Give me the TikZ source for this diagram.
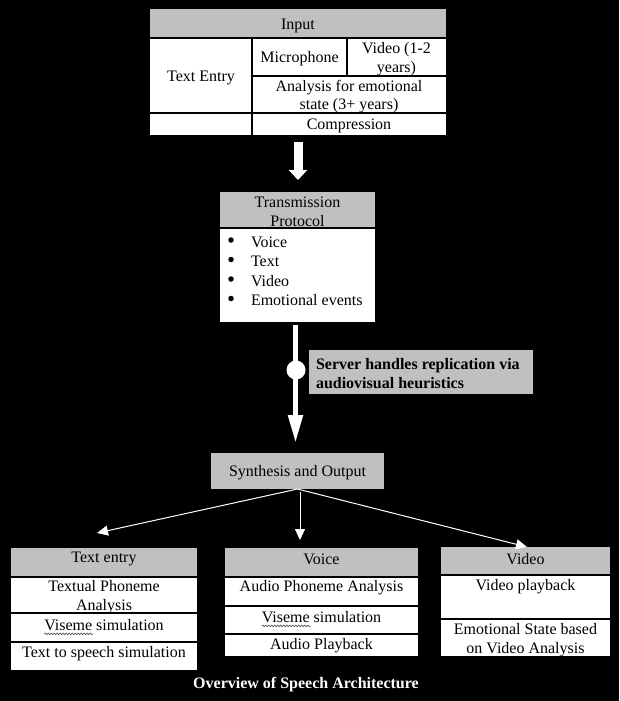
\documentclass[tikz,border=0pt]{standalone}
\usepackage{fontspec}
\setmainfont{Liberation Serif}
\usetikzlibrary{arrows.meta,calc,decorations.pathmorphing}
\definecolor{hdr}{RGB}{192,192,192}
\tikzset{
  every node/.style={font=\fontsize{16}{18.5}\selectfont, inner sep=0pt, outer sep=0pt, text=black, yshift=-2pt},
  tbl/.style={rectangle, draw=none, anchor=north west, fill=white, yshift=2pt},
  hd/.style={rectangle, draw=none, anchor=north west, fill=hdr, yshift=2pt},
  bul/.style={circle, fill=black, minimum size=5.5pt, yshift=2pt},
  rule/.style={draw=black, line width=1.2pt},
  lbl/.style={align=center},
  bigarrow/.style={draw=white, line width=9pt, -{Triangle[width=18pt,length=10pt]}},
  midarrow/.style={draw=white, line width=5pt, -{Triangle[width=14pt,length=28pt]}},
  thinarrow/.style={draw=white, line width=1pt, -{Triangle[width=10pt,length=11pt]}},
  wavy/.style={draw=gray!70!black, line width=0.7pt, decorate, decoration={snake, amplitude=0.8pt, segment length=3pt}},
}
\begin{document}
\begin{tikzpicture}[x=1pt,y=-1pt]
\fill[black] (0,0) rectangle (619,701);
\useasboundingbox (0,0) rectangle (619,701);

% ---------- Input table ----------
\node[tbl, minimum width=296pt, minimum height=126pt] (inp) at (150,9) {};
\node[hd, minimum width=296pt, minimum height=29pt] (inph) at (150,9) {};
\draw[rule] (150,38) -- (446,38);
\draw[rule] (252,76) -- (446,76);
\draw[rule] (150,113) -- (446,113);
\draw[rule] (252,38) -- (252,135);
\draw[rule] (347,38) -- (347,76);
\node (inpt) at (298,23.5) {Input};
\node (txe) at (201,76) {Text Entry};
\node (mic) at (299.5,57) {Microphone};
\node[lbl] (vid) at (396.5,57) {Video (1-2\\years)};
\node[lbl] (ana) at (349,94.5) {Analysis for emotional\\state (3+ years)};
\node (cmp) at (349,124) {Compression};

% ---------- Transmission protocol ----------
\node[tbl, minimum width=155pt, minimum height=130pt] (tp) at (220,192) {};
\node[hd, minimum width=155pt, minimum height=36pt] (tph) at (220,192) {};
\draw[rule] (220,228) -- (375,228);
\node[lbl] (tpt) at (297.5,210) {Transmission\\Protocol};
\node[bul] (b1) at (231,240) {};
\node[bul] (b2) at (231,259.5) {};
\node[bul] (b3) at (231,279) {};
\node[bul] (b4) at (231,298.5) {};
\node[anchor=west] (l1) at (251,240) {Voice};
\node[anchor=west] (l2) at (251,259.5) {Text};
\node[anchor=west] (l3) at (251,279) {Video};
\node[anchor=west] (l4) at (251,298.5) {Emotional events};

% ---------- Server label ----------
\node[hd, minimum width=224pt, minimum height=44pt] (srv) at (309,350) {};
\node[anchor=west, align=left, font=\fontsize{16}{19}\selectfont\bfseries] (srvt) at (316,372) {Server handles replication via\\audiovisual heuristics};

% ---------- Synthesis ----------
\node[hd, minimum width=173pt, minimum height=36pt] (syn) at (211,453) {};
\node (synt) at (297.5,471) {Synthesis and Output};

% ---------- Bottom tables ----------
% Text entry
\node[tbl, minimum width=186pt, minimum height=122pt] (te) at (11,548) {};
\node[hd, minimum width=186pt, minimum height=29pt] (teh) at (11,548) {};
\draw[rule] (11,577) -- (197,577);
\draw[rule] (11,613) -- (197,613);
\draw[rule] (11,642) -- (197,642);
\node (tet) at (104,557) {Text entry};
\node[lbl] (te1) at (104,595) {Textual Phoneme\\Analysis};
\node (vs1) at (104,623) {Viseme simulation};
\node (te3) at (104,652) {Text to speech simulation};
% Voice
\node[tbl, minimum width=193pt, minimum height=108pt] (vo) at (225,548) {};
\node[hd, minimum width=193pt, minimum height=29pt] (voh) at (225,548) {};
\draw[rule] (225,577) -- (418,577);
\draw[rule] (225,606) -- (418,606);
\draw[rule] (225,634) -- (418,634);
\node (vot) at (321.5,557) {Voice};
\node (vo1) at (321.5,586) {Audio Phoneme Analysis};
\node (vs2) at (321.5,615) {Viseme simulation};
\node (vo3) at (321.5,644) {Audio Playback};
% Video
\node[tbl, minimum width=169pt, minimum height=109pt] (vi) at (441,547) {};
\node[hd, minimum width=169pt, minimum height=28pt] (vih) at (441,547) {};
\draw[rule] (441,575) -- (610,575);
\draw[rule] (441,619) -- (610,619);
\node (vit) at (525.5,557) {Video};
\node (vi1) at (525.5,585) {Video playback};
\node[lbl] (vi2) at (525.5,638) {Emotional State based\\on Video Analysis};

% spell-check underlines
\draw[wavy] ($(vs1.base west)+(0,3.5)$) -- ++(48.9,0);
\draw[wavy] ($(vs2.base west)+(0,3.5)$) -- ++(48.9,0);

% ---------- Caption ----------
\node[font=\fontsize{16}{19}\selectfont\bfseries, text=white] (cap) at (306,683) {Overview of Speech Architecture};

% ---------- Connectors ----------
\draw[bigarrow, shorten <=7pt, shorten >=12pt] (inp.south) -- (inp.south |- tp.north);
\draw[midarrow, shorten <=3pt, shorten >=10pt] ($(tp.south)+(-2,0)$) -- ($(tp.south |- syn.north)+(-2,0)$);
\node[circle, fill=white, minimum size=19pt, yshift=2pt] (dot) at (296,370) {};
\draw[thinarrow] (syn.south) -- ($(te.north)+(-7,-15)$);
\draw[thinarrow] ($(syn.south)+(2.5,3)$) -- ($(syn.south)+(2.5,51)$);
\draw[thinarrow] (syn.south) -- ($(vi.north)+(1.5,0)$);
\end{tikzpicture}
\end{document}
